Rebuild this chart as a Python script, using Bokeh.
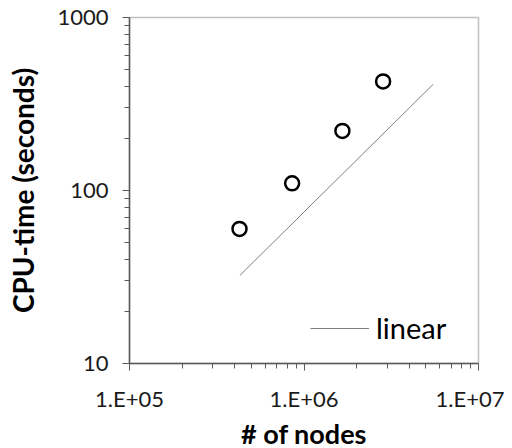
from bokeh.plotting import figure
from bokeh.models import FixedTicker, Legend, LegendItem
from bokeh.embed import file_html
from bokeh.resources import INLINE

# ---- data ----
nodes = [4.27e5, 8.55e5, 1.66e6, 2.84e6]
cpu_time = [60, 110, 221, 427]
linear_nodes = [4.29e5, 5.5e6]
linear_time = [32.3, 411]
x_ticks = [1e5, 1e6, 1e7]
x_tick_labels = ["1.E+05", "1.E+06", "1.E+07"]
y_ticks = [10, 100, 1000]
y_tick_labels = ["10", "100", "1000"]
x_title = "# of nodes"
y_title = "CPU-time (seconds)"
legend_label = "linear"

x_minor = [m * 10 ** e for e in (5, 6) for m in range(2, 10)]
y_minor = [m * 10 ** e for e in (1, 2) for m in range(2, 10)]

FONT = "Lato"
AXIS_COLOR = "#595959"

p = figure(
    x_axis_type="log", y_axis_type="log",
    x_range=(x_ticks[0], x_ticks[-1]), y_range=(y_ticks[0], y_ticks[-1]),
    frame_width=349, frame_height=346,
    min_border_left=129, min_border_top=17, min_border_right=26, min_border_bottom=85,
    output_backend="svg", toolbar_location=None,
)
p.grid.visible = False
p.outline_line_color = "#bfbfbf"
p.outline_line_width = 1.5
p.background_fill_color = "white"
p.border_fill_color = "white"

line_r = p.line(linear_nodes, linear_time, line_color="#7f7f7f", line_width=1)
p.scatter(nodes, cpu_time, size=14, fill_color="white", line_color="black", line_width=2.5)

p.xaxis.ticker = FixedTicker(ticks=x_ticks, minor_ticks=x_minor)
p.yaxis.ticker = FixedTicker(ticks=y_ticks, minor_ticks=y_minor)
p.xaxis.major_label_overrides = dict(zip(x_ticks, x_tick_labels))
p.yaxis.major_label_overrides = dict(zip(y_ticks, y_tick_labels))

for ax in (p.xaxis, p.yaxis):
    ax.axis_line_color = AXIS_COLOR
    ax.axis_line_width = 1.5
    ax.major_tick_line_color = AXIS_COLOR
    ax.minor_tick_line_color = AXIS_COLOR
    ax.major_tick_in = 0
    ax.major_tick_out = 7
    ax.minor_tick_in = 0
    ax.minor_tick_out = 5
    ax.major_label_text_font = FONT
    ax.major_label_text_font_size = "22px"
    ax.major_label_text_color = "#1a1a1a"
    ax.major_label_standoff = 14
    ax.axis_label_text_font = FONT
    ax.axis_label_text_font_style = "bold"
    ax.axis_label_text_color = "black"

p.xaxis.axis_label = x_title
p.yaxis.axis_label = y_title
p.xaxis.axis_label_text_font_size = "27px"
p.yaxis.axis_label_text_font_size = "28px"
p.xaxis.axis_label_standoff = 2
p.yaxis.axis_label_standoff = 14

legend = Legend(
    items=[LegendItem(label=legend_label, renderers=[line_r])],
    location=(181, 18), glyph_width=59, glyph_height=20, label_standoff=7,
    label_height=20, padding=0, margin=0, spacing=0,
    border_line_alpha=0, background_fill_alpha=0,
    label_text_font=FONT, label_text_font_size="29px", label_text_color="black",
)
p.add_layout(legend)

open("out.html", "w").write(file_html(p, INLINE))
